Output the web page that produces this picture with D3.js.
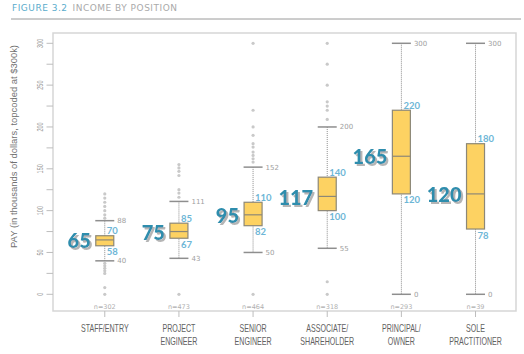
<!DOCTYPE html>
<html>
<head>
<meta charset="utf-8">
<script src="https://cdn.jsdelivr.net/npm/d3@7"></script>
<style>
  body { margin: 0; background: #fff; }
  svg { display: block; }
</style>
</head>
<body>
<div id="chart"></div>
<script>
// data (thousands of dollars)
var positions = ["STAFF/ENTRY", "PROJECT ENGINEER", "SENIOR ENGINEER", "ASSOCIATE/ SHAREHOLDER", "PRINCIPAL/ OWNER", "SOLE PRACTITIONER"];
var lowWhisker = [40, 43, 50, 55, 0, 0];
var q1 = [58, 67, 82, 100, 120, 78];
var medians = [65, 75, 95, 117, 165, 120];
var q3 = [70, 85, 110, 140, 220, 180];
var highWhisker = [88, 111, 152, 200, 300, 300];
var counts = [302, 473, 464, 318, 293, 39];
var outliers = [
  [120, 115, 110, 105, 100, 95, 91, 37, 34, 31, 28, 25, 8, 0],
  [155, 151, 147, 142, 125, 121, 116, 0],
  [300, 220, 200, 190, 180, 176, 170, 166, 162, 158, 0],
  [300, 275, 250, 230, 225, 220, 209, 15, 0],
  [],
  []
];
var yTicks = d3.range(0, 301, 25);

var svgWidth = 524, svgHeight = 354;
var frame = {left: 53, right: 516, top: 33, bottom: 311};

var svg = d3.select("#chart").append("svg")
  .attr("width", svgWidth)
  .attr("height", svgHeight);

// drop shadow for the big median numbers
svg.append("defs").append("filter")
  .attr("id", "shadow")
  .attr("x", "-20%").attr("y", "-20%").attr("width", "150%").attr("height", "150%")
  .append("feDropShadow")
  .attr("dx", 2).attr("dy", 2).attr("stdDeviation", 0.4)
  .attr("flood-color", "#b5b5b5").attr("flood-opacity", 1);

// title
var title = svg.append("text")
  .attr("x", 12).attr("y", 10.5)
  .style("font-family", "DejaVu Sans")
  .style("font-size", "9px")
  .style("letter-spacing", "0.5px");
title.append("tspan").attr("fill", "#5aaccc").text("FIGURE 3.2");
title.append("tspan").attr("fill", "#aaaaaa").attr("dx", 5).text("INCOME BY POSITION");

svg.append("line")
  .attr("x1", 11).attr("x2", 521).attr("y1", 19).attr("y2", 19)
  .attr("stroke", "#9a9a9a").attr("stroke-width", 1);

// scales
var y = d3.scaleLinear().domain([0, 300]).range([294.3, 43.3]);
var x = d3.scaleBand().domain(positions).range([67.7, 512.6]).padding(0);
var cx = function(i) { return x(positions[i]) + x.bandwidth() / 2; };

// plot frame
svg.append("rect")
  .attr("x", frame.left).attr("y", frame.top)
  .attr("width", frame.right - frame.left)
  .attr("height", frame.bottom - frame.top)
  .attr("fill", "none")
  .attr("stroke", "#d6d6d6")
  .attr("stroke-width", 1.5);

// y axis ticks + labels
var yAxis = svg.append("g");
yAxis.selectAll("line").data(yTicks).enter().append("line")
  .attr("x1", 46.5).attr("x2", frame.left)
  .attr("y1", d => y(d)).attr("y2", d => y(d))
  .attr("stroke", "#bdbdbd");
yAxis.selectAll("text").data(yTicks.filter(d => d % 50 === 0)).enter().append("text")
  .attr("transform", d => `translate(42.8,${y(d)}) rotate(-90) scale(0.58,1)`)
  .attr("text-anchor", "middle")
  .style("font-family", "Liberation Sans")
  .style("font-size", "9.5px")
  .attr("fill", "#9a9a9a")
  .text(d => d);

svg.append("text")
  .attr("transform", "translate(17,146.5) rotate(-90)")
  .attr("text-anchor", "middle")
  .attr("textLength", 203)
  .attr("lengthAdjust", "spacingAndGlyphs")
  .style("font-family", "Liberation Sans")
  .style("font-size", "9.5px")
  .attr("fill", "#707070")
  .text("PAY (in thousands of dollars, topcoded at $300k)");

// bottom ticks and category labels
var xAxis = svg.append("g");
xAxis.selectAll("line").data(positions).enter().append("line")
  .attr("x1", (d, i) => cx(i)).attr("x2", (d, i) => cx(i))
  .attr("y1", frame.bottom).attr("y2", 317)
  .attr("stroke", "#bdbdbd");
positions.forEach(function(p, i) {
  var lines = p.indexOf(" ") > -1 ? p.split(" ") : [p];
  lines.forEach(function(l, j) {
    xAxis.append("text")
      .attr("transform", `translate(${cx(i)},${331.5 + j * 13}) scale(0.6,1)`)
      .attr("text-anchor", "middle")
      .style("font-family", "Liberation Sans")
      .style("font-size", "11.8px")
      .attr("fill", "#626262")
      .text(l);
  });
});

// n labels
svg.selectAll(".nlab").data(counts).enter().append("text")
  .attr("class", "nlab")
  .attr("x", (d, i) => cx(i)).attr("y", 308.5)
  .attr("text-anchor", "middle")
  .style("font-family", "DejaVu Sans")
  .style("font-size", "6.5px")
  .attr("fill", "#b0b0b0")
  .text(d => "n=" + d);

// boxes
var boxW = 18, capW = 19;
var boxes = svg.selectAll(".box").data(positions).enter().append("g").attr("class", "box");

// outliers
boxes.each(function(p, i) {
  d3.select(this).selectAll("circle").data(outliers[i]).enter().append("circle")
    .attr("cx", cx(i)).attr("cy", d => y(d))
    .attr("r", 1.6).attr("fill", "#c9c9c9");
});

// dotted whiskers
boxes.append("line")
  .attr("x1", (d, i) => cx(i)).attr("x2", (d, i) => cx(i))
  .attr("y1", (d, i) => y(lowWhisker[i])).attr("y2", (d, i) => y(q1[i]))
  .attr("stroke", "#8c8c8c").attr("stroke-dasharray", "1,1");
boxes.append("line")
  .attr("x1", (d, i) => cx(i)).attr("x2", (d, i) => cx(i))
  .attr("y1", (d, i) => y(highWhisker[i])).attr("y2", (d, i) => y(q3[i]))
  .attr("stroke", "#8c8c8c").attr("stroke-dasharray", "1,1");

// caps
[lowWhisker, highWhisker].forEach(function(arr) {
  boxes.append("line")
    .attr("x1", (d, i) => cx(i) - capW / 2).attr("x2", (d, i) => cx(i) + capW / 2)
    .attr("y1", (d, i) => y(arr[i])).attr("y2", (d, i) => y(arr[i]))
    .attr("stroke", "#8e8e8e").attr("stroke-width", 1.5);
  boxes.append("text")
    .attr("x", (d, i) => cx(i) + capW / 2 + 3)
    .attr("y", (d, i) => y(arr[i]))
    .attr("dy", "0.35em")
    .style("font-family", "DejaVu Sans")
    .style("font-size", "7px")
    .attr("fill", "#a0a0a0")
    .text((d, i) => arr[i]);
});

boxes.append("rect")
  .attr("x", (d, i) => cx(i) - boxW / 2)
  .attr("y", (d, i) => y(q3[i]))
  .attr("width", boxW)
  .attr("height", (d, i) => y(q1[i]) - y(q3[i]))
  .attr("fill", "#fdd262")
  .attr("stroke", "#8d8877")
  .attr("stroke-width", 1.2);
boxes.append("line")
  .attr("x1", (d, i) => cx(i) - boxW / 2).attr("x2", (d, i) => cx(i) + boxW / 2)
  .attr("y1", (d, i) => y(medians[i])).attr("y2", (d, i) => y(medians[i]))
  .attr("stroke", "#8d8877").attr("stroke-width", 1.2);

// quartile labels
boxes.append("text")
  .attr("x", (d, i) => cx(i) + 2)
  .attr("y", (d, i) => y(q3[i]) - 1.5)
  .style("font-family", "Lato").style("font-weight", 700).style("font-size", "9.5px")
  .attr("fill", "#6db6d6")
  .text((d, i) => q3[i]);
boxes.append("text")
  .attr("x", (d, i) => cx(i) + 2)
  .attr("y", (d, i) => y(q1[i]) + 9.5)
  .style("font-family", "Lato").style("font-weight", 700).style("font-size", "9.5px")
  .attr("fill", "#6db6d6")
  .text((d, i) => q1[i]);

// median labels with shadow
boxes.append("text")
  .attr("x", (d, i) => cx(i) - boxW / 2 - 5)
  .attr("y", (d, i) => y(medians[i]) + 1)
  .attr("dy", "0.36em")
  .attr("text-anchor", "end")
  .attr("filter", "url(#shadow)")
  .style("font-family", "Lato").style("font-weight", 900).style("font-size", "20px")
  .attr("fill", "#2e8dad")
  .text((d, i) => medians[i]);
</script>
</body>
</html>
